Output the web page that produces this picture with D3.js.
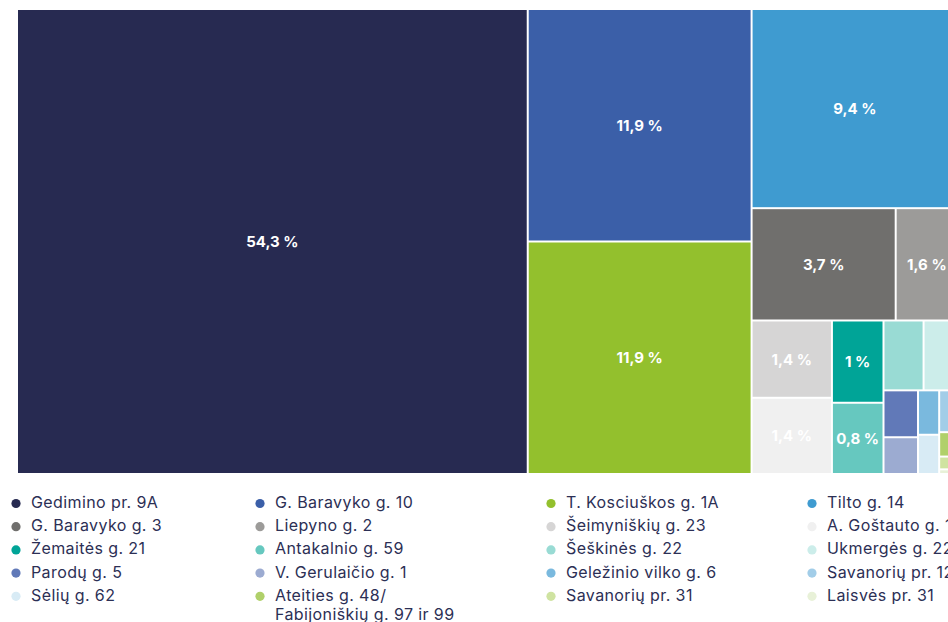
<!DOCTYPE html>
<html>
<head>
<meta charset="utf-8">
<script src="https://cdn.jsdelivr.net/npm/d3@7/dist/d3.min.js"></script>
<style>
  html, body { margin: 0; padding: 0; background: #ffffff; overflow: hidden; }
  svg { display: block; }
</style>
</head>
<body>
<svg id="chart" width="948" height="622"></svg>
<script>
// ---------- DATA (legend order) ----------
const names = [
  "Gedimino pr. 9A", "G. Baravyko g. 10", "T. Kosciuškos g. 1A", "Tilto g. 14",
  "G. Baravyko g. 3", "Liepyno g. 2", "Šeimyniškių g. 23", "A. Goštauto g. 12",
  "Žemaitės g. 21", "Antakalnio g. 59", "Šeškinės g. 22", "Ukmergės g. 222",
  "Parodų g. 5", "V. Gerulaičio g. 1", "Geležinio vilko g. 6", "Savanorių pr. 124",
  "Sėlių g. 62", "Ateities g. 48/\nFabijoniškių g. 97 ir 99", "Savanorių pr. 31", "Laisvės pr. 31"
];
const shares = [
  54.3, 11.9, 11.9, 9.4,
  3.7, 1.6, 1.42, 1.40,
  0.97, 0.84, 0.64, 0.55,
  0.37, 0.29, 0.215, 0.18,
  0.19, 0.105, 0.055, 0.02
];
const colors = [
  "#272a51", "#3b5fa8", "#93c02d", "#3f9bd0",
  "#706f6d", "#9c9b99", "#d6d5d5", "#f0f0f0",
  "#00a497", "#66c8bf", "#99dbd4", "#ccedea",
  "#6179b8", "#9cabd1", "#7ab9de", "#a2cde8",
  "#d8ebf5", "#b0d06a", "#cfe3a1", "#e8f1d8"
];

// ---------- LAYOUT CONFIG ----------
// strips of the treemap: how many (value-sorted) cells each strip holds and its direction
const stripPlan = [
  {count: 1, dir: "col"}, {count: 2, dir: "col"}, {count: 1, dir: "row"}, {count: 2, dir: "row"},
  {count: 2, dir: "col"}, {count: 2, dir: "col"}, {count: 2, dir: "row"}, {count: 2, dir: "col"},
  {count: 2, dir: "col"}, {count: 4, dir: "col"}
];
const margin = {left: 17, top: 9};
const mapW = 941, mapH = 465;
const legendColX = [16, 260, 551, 812];
const legendY0 = 503.5, legendRowH = 23.2;
const textColor = "#2c2f55";

function planTile(parent, x0, y0, x1, y1) {
  const nodes = parent.children;
  let i = 0, total = parent.value;
  for (const step of stripPlan) {
    if (i >= nodes.length) break;
    const group = nodes.slice(i, i + step.count);
    const sum = d3.sum(group, d => d.value);
    const row = {value: sum, children: group};
    if (step.dir === "col") {
      const xm = total ? x0 + (x1 - x0) * sum / total : x1;
      d3.treemapSlice(row, x0, y0, xm, y1);
      x0 = xm;
    } else {
      const ym = total ? y0 + (y1 - y0) * sum / total : y1;
      d3.treemapDice(row, x0, y0, x1, ym);
      y0 = ym;
    }
    total -= sum;
    i += step.count;
  }
}

const items = names.map((n, i) => ({name: n, value: shares[i], color: colors[i]}));

const root = d3.hierarchy({children: items})
  .sum(d => d.value || 0)
  .sort((a, b) => b.value - a.value);

d3.treemap().tile(planTile).size([mapW, mapH]).round(false)(root);

const svg = d3.select("#chart");
const g = svg.append("g").attr("transform", `translate(${margin.left},${margin.top})`);

const fmt = v => {
  const s = d3.format(".1f")(v).replace(/\.0$/, "");
  return s.replace(".", ",") + " %";
};

const cells = g.selectAll("g.cell").data(root.leaves()).join("g").attr("class", "cell");
cells.append("rect")
  .attr("x", d => d.x0 + 1)
  .attr("y", d => d.y0 + 1)
  .attr("width", d => Math.max(0, d.x1 - d.x0 - 2))
  .attr("height", d => Math.max(0, d.y1 - d.y0 - 2))
  .attr("fill", d => d.data.color);

cells.append("text")
  .attr("x", d => (d.x0 + d.x1) / 2)
  .attr("y", d => (d.y0 + d.y1) / 2)
  .attr("text-anchor", "middle")
  .attr("dominant-baseline", "central")
  .attr("fill", "#ffffff")
  .style("font-family", "Inter, 'Open Sans', sans-serif")
  .style("font-weight", 700)
  .style("font-size", "15px")
  .text(d => fmt(d.data.value))
  .each(function(d) {
    const w = this.getComputedTextLength();
    if (w > (d.x1 - d.x0) - 6 || (d.y1 - d.y0) < 24) d3.select(this).remove();
  });

// ---------- LEGEND ----------
const leg = svg.append("g").selectAll("g").data(items).join("g")
  .attr("transform", (d, i) => `translate(${legendColX[i % 4]},${legendY0 + Math.floor(i / 4) * legendRowH})`);
leg.append("circle").attr("r", 4.6).attr("fill", d => d.color);
leg.append("text")
  .attr("x", 15)
  .attr("y", 4.5)
  .attr("fill", textColor)
  .style("font-family", "Inter, 'Open Sans', sans-serif")
  .style("font-size", "16px")
  .style("letter-spacing", "0.4px")
  .each(function(d) {
    const lines = d.name.split("\n");
    d3.select(this).selectAll("tspan").data(lines).join("tspan")
      .attr("x", 15)
      .attr("dy", (l, j) => j === 0 ? 0 : 19.5)
      .text(l => l);
  });
</script>
</body>
</html>
